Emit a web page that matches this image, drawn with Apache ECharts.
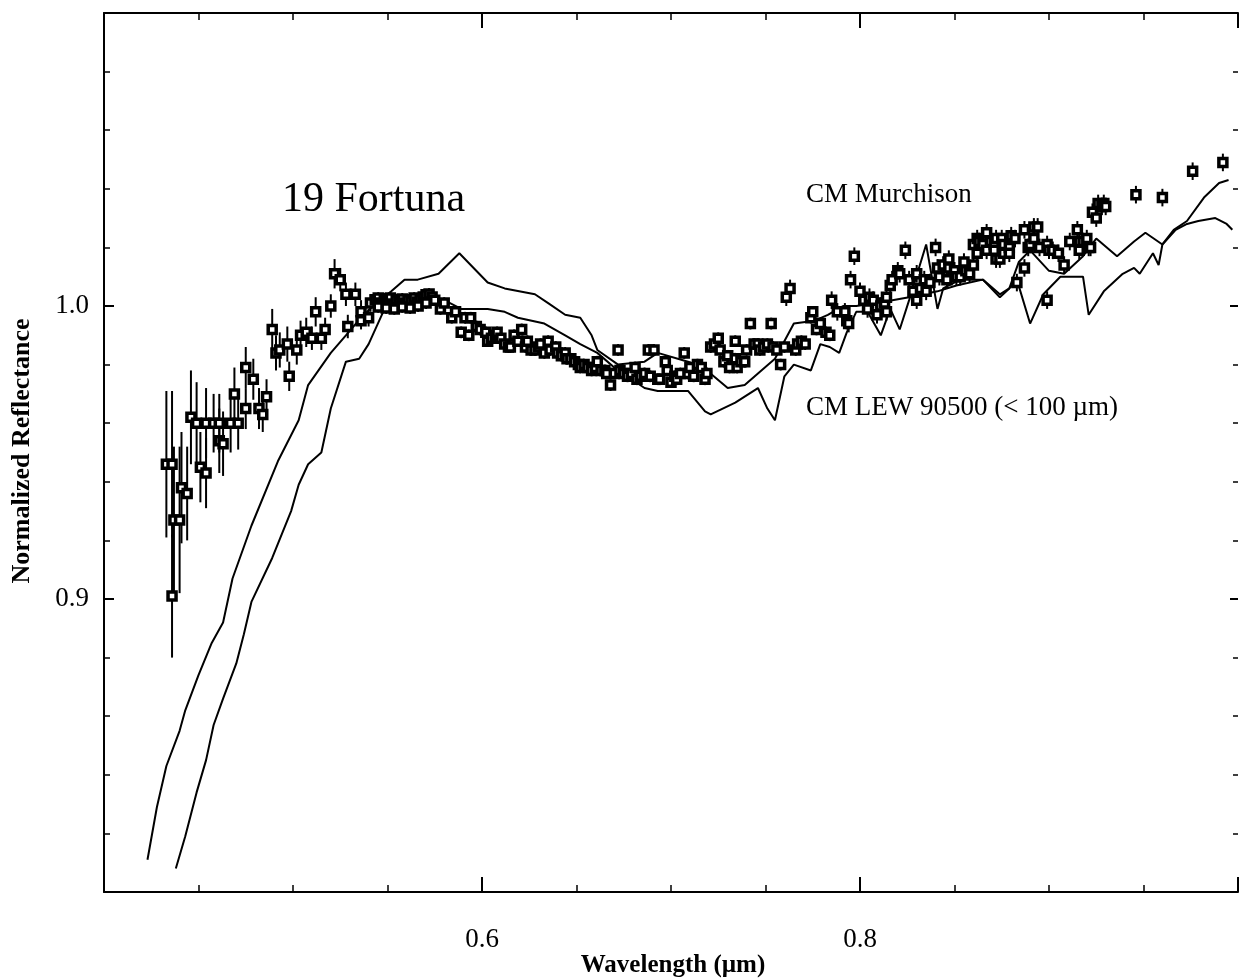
<!DOCTYPE html>
<html>
<head>
<meta charset="utf-8">
<title>19 Fortuna</title>
<script src="https://cdn.jsdelivr.net/npm/echarts/dist/echarts.min.js"></script>
<style>
  html, body { margin: 0; padding: 0; background: #fff; }
  #chart { width: 1241px; height: 979px; }
</style>
</head>
<body>
<div id="chart"></div>
<script>
// 19 Fortuna reflectance: [wavelength (um), normalized reflectance, 1-sigma]
const fortunaShort = [
  [0.433,0.946,0.025],[0.436,0.946,0.025],[0.436,0.901,0.021],[0.437,0.927,0.025],[0.440,0.927,0.025],
  [0.441,0.938,0.019],[0.444,0.936,0.016],[0.446,0.962,0.016],[0.449,0.960,0.014],[0.451,0.945,0.012],
  [0.454,0.943,0.012],[0.454,0.960,0.012],[0.458,0.960,0.010],[0.461,0.954,0.011],[0.463,0.953,0.011],
  [0.461,0.960,0.010],[0.467,0.960,0.010],[0.469,0.970,0.009],[0.471,0.960,0.009],[0.475,0.979,0.007],
  [0.479,0.975,0.007],[0.475,0.965,0.007],[0.482,0.965,0.007],[0.484,0.963,0.006],[0.486,0.969,0.006],
  [0.489,0.992,0.007],[0.491,0.984,0.006],[0.493,0.985,0.006],[0.497,0.987,0.006],[0.498,0.976,0.005],
  [0.502,0.985,0.005],[0.504,0.990,0.005],[0.507,0.991,0.005],[0.510,0.989,0.004],[0.512,0.998,0.005],
  [0.517,0.992,0.004],[0.515,0.989,0.004],[0.520,1.000,0.004],[0.522,1.011,0.005],[0.525,1.009,0.004],
  [0.528,1.004,0.004],[0.533,1.004,0.004],[0.529,0.993,0.004],[0.536,0.998,0.004],[0.536,0.995,0.003],
  [0.540,0.996,0.003],[0.541,1.001,0.003]
];
const fortunaPeak = [
  [0.5435,1.0021,0.002],[0.5451,1.0027,0.002],[0.5467,1.0010,0.002],[0.5483,1.0024,0.002],[0.5499,1.0017,0.002],
  [0.5515,1.0027,0.002],[0.5530,1.0007,0.002],[0.5546,1.0021,0.002],[0.5562,1.0014,0.002],[0.5578,1.0024,0.002],
  [0.5594,1.0010,0.002],[0.5609,1.0021,0.002],[0.5625,1.0017,0.002],[0.5641,1.0027,0.002],[0.5657,1.0014,0.002],
  [0.5673,1.0024,0.002],[0.5689,1.0031,0.002],[0.5704,1.0038,0.002],[0.5720,1.0041,0.002],[0.5736,1.0031,0.002],
  [0.5451,0.9997,0.002],[0.5493,0.9993,0.002],[0.5536,0.9990,0.002],[0.5578,0.9997,0.002],[0.5620,0.9993,0.002],
  [0.5662,1.0000,0.002],[0.5704,1.0010,0.002]
];
const fortunaMid = [
  [0.575,1.002,0.002],[0.578,0.999,0.002],[0.580,1.001,0.002],[0.584,0.996,0.002],[0.586,0.998,0.002],
  [0.589,0.991,0.002],[0.591,0.996,0.002],[0.593,0.990,0.002],[0.594,0.996,0.002],[0.597,0.993,0.002],
  [0.599,0.992,0.002],[0.602,0.991,0.002],[0.603,0.988,0.002],[0.605,0.989,0.002],[0.607,0.990,0.002],
  [0.608,0.991,0.002],[0.610,0.989,0.002],[0.612,0.987,0.002],[0.614,0.986,0.002],[0.615,0.986,0.002],
  [0.617,0.990,0.002],[0.619,0.988,0.002],[0.621,0.992,0.002],[0.623,0.986,0.002],[0.624,0.988,0.002],
  [0.626,0.985,0.002],[0.628,0.985,0.002],[0.630,0.986,0.002],[0.631,0.987,0.002],[0.633,0.984,0.002],
  [0.635,0.988,0.002],[0.636,0.985,0.002],[0.639,0.986,0.002],[0.640,0.984,0.002],[0.642,0.983,0.002],
  [0.644,0.984,0.002],[0.645,0.982,0.002],[0.647,0.982,0.002],[0.649,0.981,0.002],[0.651,0.980,0.002],
  [0.652,0.979,0.002],[0.654,0.980,0.002],[0.656,0.979,0.002],[0.658,0.978,0.002],[0.660,0.979,0.002],
  [0.661,0.981,0.002],[0.663,0.978,0.002],[0.665,0.978,0.002],[0.666,0.977,0.002],[0.668,0.973,0.002],
  [0.670,0.977,0.002],[0.672,0.985,0.002],[0.673,0.978,0.002],[0.675,0.977,0.002],[0.677,0.976,0.002],
  [0.679,0.977,0.002],[0.681,0.979,0.002],[0.682,0.975,0.002],[0.684,0.976,0.002],[0.686,0.977,0.002],
  [0.688,0.985,0.002],[0.689,0.976,0.002],[0.691,0.985,0.002],[0.693,0.975,0.002],[0.694,0.975,0.002],
  [0.697,0.981,0.002],[0.698,0.978,0.002],[0.700,0.974,0.002],[0.702,0.976,0.002],[0.703,0.975,0.002],
  [0.705,0.977,0.002],[0.707,0.984,0.002],[0.709,0.977,0.002],[0.710,0.979,0.002],[0.712,0.976,0.002],
  [0.714,0.980,0.002],[0.716,0.979,0.002],[0.718,0.975,0.002],[0.719,0.977,0.002],[0.721,0.986,0.002],
  [0.723,0.987,0.002],[0.725,0.989,0.002],[0.726,0.985,0.002],[0.728,0.981,0.002],[0.730,0.983,0.002],
  [0.731,0.979,0.002],[0.734,0.988,0.002],[0.734,0.982,0.002],[0.735,0.979,0.002],[0.737,0.981,0.002],
  [0.739,0.981,0.002],[0.740,0.985,0.002],[0.742,0.994,0.002],[0.744,0.987,0.002],[0.746,0.987,0.002],
  [0.747,0.985,0.002],[0.749,0.986,0.002],[0.751,0.987,0.002],[0.753,0.994,0.002],[0.754,0.986,0.002],
  [0.756,0.985,0.002],[0.758,0.980,0.002],[0.760,0.986,0.002],[0.761,1.003,0.003],[0.763,1.006,0.003],
  [0.766,0.985,0.002],[0.767,0.987,0.002],[0.769,0.988,0.002],[0.771,0.987,0.002],[0.774,0.996,0.002],
  [0.775,0.998,0.002],[0.777,0.992,0.002],[0.779,0.994,0.002],[0.782,0.991,0.002],[0.784,0.990,0.002],
  [0.785,1.002,0.003],[0.788,0.998,0.003],[0.792,0.998,0.003],[0.793,0.995,0.003],[0.794,0.994,0.003],
  [0.795,1.009,0.003],[0.797,1.017,0.003]
];
const fortunaLong = [
  [0.800,1.005,0.003],[0.802,1.002,0.003],[0.804,0.999,0.003],[0.805,1.003,0.003],[0.807,1.002,0.003],
  [0.809,0.997,0.003],[0.811,1.000,0.003],[0.813,1.001,0.003],[0.814,1.003,0.003],[0.814,0.998,0.003],
  [0.816,1.007,0.003],[0.817,1.009,0.003],[0.820,1.012,0.003],[0.821,1.011,0.003],[0.824,1.019,0.003],
  [0.826,1.009,0.003],[0.828,1.005,0.003],[0.830,1.011,0.003],[0.830,1.002,0.003],[0.832,1.006,0.003],
  [0.834,1.009,0.003],[0.835,1.005,0.003],[0.837,1.008,0.003],[0.840,1.020,0.003],[0.841,1.013,0.003],
  [0.842,1.010,0.003],[0.844,1.014,0.003],[0.846,1.009,0.003],[0.847,1.013,0.003],[0.847,1.016,0.003],
  [0.850,1.012,0.003],[0.851,1.010,0.003],[0.853,1.010,0.003],[0.855,1.015,0.003],[0.856,1.012,0.003],
  [0.858,1.011,0.003],[0.860,1.021,0.003],[0.860,1.014,0.003],[0.862,1.023,0.003],[0.862,1.018,0.003],
  [0.863,1.022,0.003],[0.865,1.021,0.003],[0.867,1.025,0.003],[0.867,1.019,0.003],[0.869,1.022,0.003],
  [0.871,1.021,0.003],[0.871,1.019,0.003],[0.872,1.023,0.003],[0.872,1.016,0.003],[0.874,1.016,0.003],
  [0.875,1.023,0.003],[0.876,1.021,0.003],[0.876,1.018,0.003],[0.879,1.020,0.003],[0.879,1.018,0.003],
  [0.880,1.024,0.003],[0.882,1.023,0.003],[0.883,1.008,0.003],[0.887,1.013,0.003],[0.887,1.026,0.003],
  [0.889,1.020,0.003],[0.890,1.021,0.003],[0.892,1.027,0.003],[0.892,1.023,0.003],[0.894,1.027,0.003],
  [0.895,1.020,0.003],[0.899,1.021,0.003],[0.899,1.002,0.003],[0.900,1.019,0.003],[0.902,1.019,0.003],
  [0.905,1.018,0.003],[0.908,1.014,0.003],[0.911,1.022,0.003],[0.915,1.026,0.003],[0.916,1.022,0.003],
  [0.916,1.019,0.003],[0.918,1.022,0.003],[0.920,1.023,0.003],[0.921,1.020,0.003],[0.922,1.020,0.003],
  [0.923,1.032,0.003],[0.925,1.030,0.003],[0.926,1.035,0.003],[0.928,1.034,0.003],[0.929,1.035,0.003],
  [0.930,1.034,0.003],[0.946,1.038,0.003],[0.960,1.037,0.003],[0.976,1.046,0.003],[0.992,1.049,0.003]
];

// Meteorite laboratory spectra: [wavelength (um), normalized reflectance]
const murchison = [
  [0.423,0.811],[0.428,0.829],[0.433,0.843],[0.440,0.855],[0.443,0.862],[0.450,0.874],[0.457,0.885],
  [0.463,0.892],[0.468,0.907],[0.478,0.925],[0.492,0.947],[0.503,0.961],[0.508,0.973],[0.520,0.984],
  [0.528,0.990],[0.536,0.996],[0.544,1.001],[0.552,1.005],[0.559,1.009],[0.566,1.009],[0.577,1.011],
  [0.588,1.018],[0.603,1.008],[0.612,1.006],[0.628,1.004],[0.635,1.001],[0.644,0.997],[0.652,0.996],
  [0.658,0.990],[0.661,0.985],[0.672,0.980],[0.686,0.981],[0.693,0.984],[0.709,0.981],[0.719,0.978],
  [0.730,0.972],[0.739,0.973],[0.746,0.977],[0.755,0.982],[0.765,0.994],[0.776,0.995],[0.783,0.997],
  [0.791,1.000],[0.798,1.000],[0.809,1.001],[0.826,1.003],[0.841,1.005],[0.851,1.007],[0.865,1.009],
  [0.874,1.003],[0.879,1.006],[0.884,1.015],[0.890,1.019],[0.900,1.012],[0.908,1.011],[0.918,1.017],
  [0.925,1.023],[0.936,1.017],[0.945,1.022],[0.951,1.025],[0.960,1.021],[0.966,1.026],[0.973,1.029],
  [0.982,1.037],[0.990,1.042],[0.995,1.043]
];
const lew90500 = [
  [0.438,0.808],[0.443,0.819],[0.449,0.834],[0.454,0.845],[0.458,0.857],[0.463,0.866],[0.470,0.878],
  [0.474,0.888],[0.478,0.899],[0.489,0.914],[0.499,0.930],[0.503,0.939],[0.508,0.946],[0.515,0.950],
  [0.520,0.965],[0.528,0.981],[0.535,0.982],[0.540,0.987],[0.547,0.997],[0.550,1.001],[0.561,1.002],
  [0.572,1.003],[0.580,1.002],[0.589,0.999],[0.603,0.999],[0.612,0.998],[0.619,0.996],[0.633,0.994],
  [0.644,0.990],[0.652,0.987],[0.661,0.984],[0.670,0.979],[0.686,0.972],[0.693,0.971],[0.709,0.971],
  [0.718,0.964],[0.721,0.963],[0.734,0.967],[0.746,0.972],[0.751,0.965],[0.755,0.961],[0.760,0.976],
  [0.765,0.980],[0.774,0.978],[0.779,0.987],[0.784,0.986],[0.789,0.984],[0.793,0.991],[0.798,0.998],
  [0.804,0.998],[0.811,0.990],[0.816,0.999],[0.821,0.992],[0.826,1.002],[0.835,1.021],[0.841,0.999],
  [0.844,1.006],[0.853,1.009],[0.865,1.009],[0.874,1.004],[0.879,1.006],[0.883,1.009],[0.890,0.994],
  [0.897,1.004],[0.906,1.010],[0.918,1.010],[0.921,0.997],[0.929,1.005],[0.939,1.011],[0.945,1.013],
  [0.948,1.011],[0.955,1.018],[0.958,1.014],[0.960,1.021],[0.967,1.026],[0.973,1.028],[0.979,1.029],
  [0.988,1.030],[0.994,1.028],[0.997,1.026]
];

// Axis ticks that carry a printed label
const xTickLabels = ['0.6', '0.8'];
const yTickLabels = ['0.9', '1.0'];

const allPoints = fortunaShort.concat(fortunaPeak, fortunaMid, fortunaLong);

const serif = '"Liberation Serif", "Times New Roman", serif';
const ink = '#000';

function frameAxis(extra) {
  return Object.assign({
    type: 'value',
    axisLine: { show: true, onZero: false, lineStyle: { color: ink, width: 2 } },
    splitLine: { show: false },
    minorSplitLine: { show: false }
  }, extra);
}

const chart = echarts.init(document.getElementById('chart'), null, { renderer: 'canvas' });

chart.setOption({
  backgroundColor: '#fff',
  animation: false,
  grid: { left: 104, top: 13, width: 1140, height: 879, containLabel: false },
  xAxis: [
    frameAxis({
      position: 'bottom', min: 0.4, max: 1.0, interval: 0.2,
      axisTick: { inside: true, length: 15, lineStyle: { color: ink, width: 2 } },
      minorTick: { show: true, splitNumber: 4, length: 7, lineStyle: { color: ink, width: 1.5 } },
      axisLabel: {
        margin: 34, color: ink, fontFamily: serif, fontSize: 27,
        formatter: v => { const s = (Math.round(v * 10) / 10).toFixed(1); return xTickLabels.includes(s) ? s : ''; }
      }
    }),
    frameAxis({
      position: 'top', min: 0.4, max: 1.0, interval: 0.2,
      axisTick: { inside: true, length: 15, lineStyle: { color: ink, width: 2 } },
      minorTick: { show: true, splitNumber: 4, length: 7, lineStyle: { color: ink, width: 1.5 } },
      axisLabel: { show: false }
    })
  ],
  yAxis: [
    frameAxis({
      position: 'left', min: 0.8, max: 1.1, interval: 0.1,
      axisTick: { inside: true, length: 10, lineStyle: { color: ink, width: 2 } },
      minorTick: { show: true, splitNumber: 5, length: 6, lineStyle: { color: ink, width: 1.5 } },
      axisLabel: {
        margin: 15, color: ink, fontFamily: serif, fontSize: 27,
        formatter: v => { const s = (Math.round(v * 10) / 10).toFixed(1); return yTickLabels.includes(s) ? s : ''; }
      }
    }),
    frameAxis({
      position: 'right', min: 0.8, max: 1.1, interval: 0.1,
      axisLine: { show: false },
      axisTick: { show: true, inside: true, length: 8, lineStyle: { color: ink, width: 2 } },
      minorTick: { show: true, splitNumber: 5, length: 5, lineStyle: { color: ink, width: 1.5 } },
      axisLabel: { show: false }
    })
  ],
  graphic: [
    { type: 'text', x: 282, y: 200, z: 10,
      style: { text: '19 Fortuna', font: '42px ' + serif, fill: ink, align: 'left', verticalAlign: 'middle' } },
    { type: 'text', x: 806, y: 195, z: 10,
      style: { text: 'CM Murchison', font: '27px ' + serif, fill: ink, align: 'left', verticalAlign: 'middle' } },
    { type: 'text', x: 806, y: 408, z: 10,
      style: { text: 'CM LEW 90500 (< 100 \u00b5m)', font: '27px ' + serif, fill: ink, align: 'left', verticalAlign: 'middle' } },
    { type: 'text', x: 22, y: 451, rotation: Math.PI / 2, z: 10,
      style: { text: 'Normalized Reflectance', font: 'bold 26px ' + serif, fill: ink, align: 'center', verticalAlign: 'middle' } },
    { type: 'text', x: 673, y: 966, z: 10,
      style: { text: 'Wavelength (\u00b5m)', font: 'bold 25px ' + serif, fill: ink, align: 'center', verticalAlign: 'middle' } }
  ],
  series: [
    {
      name: 'errors', type: 'custom', xAxisIndex: 0, yAxisIndex: 0, z: 2,
      data: allPoints, encode: { x: 0, y: 1 },
      renderItem: (params, api) => {
        const x = api.value(0), y = api.value(1), e = api.value(2);
        const hi = api.coord([x, y + e]);
        const lo = api.coord([x, y - e]);
        return {
          type: 'line',
          shape: { x1: hi[0], y1: hi[1], x2: lo[0], y2: lo[1] },
          style: { stroke: ink, lineWidth: 2 }
        };
      }
    },
    {
      name: 'CM Murchison', type: 'line', data: murchison, showSymbol: false, z: 3,
      lineStyle: { color: ink, width: 2 }
    },
    {
      name: 'CM LEW 90500', type: 'line', data: lew90500, showSymbol: false, z: 3,
      lineStyle: { color: ink, width: 2 }
    },
    {
      name: '19 Fortuna', type: 'scatter', data: allPoints, z: 4,
      symbol: 'rect', symbolSize: 8,
      itemStyle: { color: '#fff', borderColor: ink, borderWidth: 3.5, opacity: 1 }
    }
  ]
});
</script>
</body>
</html>
